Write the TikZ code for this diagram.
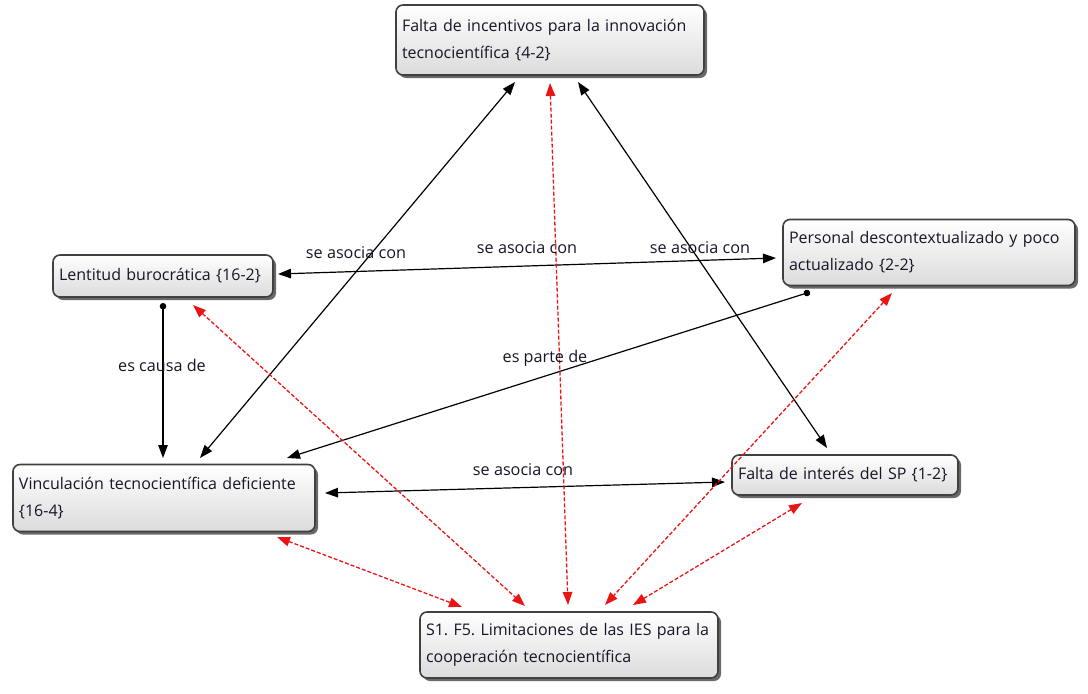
\documentclass[tikz,border=0pt]{standalone}
\usepackage{fontspec}
\setmainfont{Open Sans}
\usetikzlibrary{arrows.meta,shadows,calc}
\definecolor{txt}{RGB}{22,22,40}
\definecolor{redline}{RGB}{235,20,20}
\frenchspacing
\begin{document}
\begin{tikzpicture}[x=1pt,y=-1pt,
  mytip/.tip={Triangle[length=13pt,width=9.5pt]},
  mydot/.tip={Circle[length=6.5pt]},
  box/.style={draw=black!75, line width=1.6pt, rounded corners=7pt,
    top color=white, bottom color=black!14,
    drop shadow={shadow xshift=3pt,shadow yshift=-3pt,fill=black!65,opacity=.9},
    align=left, inner xsep=6pt, inner ysep=0pt, text=txt,
    font=\fontsize{16}{27}\selectfont},
  lbl/.style={text=txt, inner sep=0pt, font=\fontsize{16.2}{18}\selectfont},
  blk/.style={draw=black, line width=1.2pt},
  rdl/.style={draw=redline, line width=1.3pt, dash pattern=on 4pt off 2pt}]
\useasboundingbox (0,0) rectangle (1088,694);

\node[box, text width=296pt, minimum width=308pt, minimum height=70pt] (top) at (550,40)
  {\mbox{Falta de incentivos para la innovación}\\\mbox{tecnocientífica \{4-2\}}};
\node[box, text width=208pt, minimum width=220pt, minimum height=42pt] (lent) at (163,276)
  {\mbox{Lentitud burocrática \{16-2\}}};
\node[box, text width=280pt, minimum width=292pt, minimum height=66pt] (pers) at (929,252.5)
  {\mbox{Personal descontextualizado y poco}\\\mbox{actualizado \{2-2\}}};
\node[box, text width=290pt, minimum width=302pt, minimum height=67pt] (vinc) at (164,498)
  {\mbox{Vinculación tecnocientífica deficiente}\\\mbox{\{16-4\}}};
\node[box, text width=214pt, minimum width=226pt, minimum height=40pt] (fint) at (845,475)
  {\mbox{Falta de interés del SP \{1-2\}}};
\node[box, text width=286pt, minimum width=298pt, minimum height=66pt] (s1) at (569,645)
  {\mbox{S1. F5. Limitaciones de las IES para la}\\\mbox{cooperación tecnocientífica}};

% black connectors
\draw[blk,mytip-mytip] ($(top.center)+(-35,42)$) -- ($(vinc.center)+(36,-40)$);
\draw[blk,mytip-mytip] ($(top.center)+(28,42)$) -- ($(fint.center)+(-18,-27)$);
\draw[blk,mytip-mytip] ($(lent.center)+(115,-2)$) -- ($(pers.center)+(-153,5.5)$);
\draw[blk,mydot-mytip] ($(lent.center)+(0,27)$) -- ($(vinc.center)+(-1,-40)$);
\draw[blk,mydot-mytip] ($(pers.center)+(-119,39.5)$) -- ($(vinc.center)+(123,-40)$);
\draw[blk,mytip-mytip] ($(vinc.center)+(161,-5)$) -- ($(fint.center)+(-120,7)$);

% red dashed connectors
\draw[rdl,mytip-mytip] ($(top.center)+(0,43)$) -- ($(s1.center)+(-1,-40)$);
\draw[rdl,mytip-mytip] ($(lent.center)+(30,29)$) -- ($(s1.center)+(-44,-39)$);
\draw[rdl,mytip-mytip] ($(vinc.center)+(113,39)$) -- ($(s1.center)+(-107,-38)$);
\draw[rdl,mytip-mytip] ($(pers.center)+(-37,40.5)$) -- ($(s1.center)+(36,-40)$);
\draw[rdl,mytip-mytip] ($(fint.center)+(-43,28)$) -- ($(s1.center)+(64,-40)$);

% labels
\node[lbl] (l1) at (356,253) {se asocia con};
\node[lbl] (l2) at (527,248) {se asocia con};
\node[lbl] (l3) at (700,248) {se asocia con};
\node[lbl] (l4) at (162,365) {es causa de};
\node[lbl] (l5) at (545,358) {es parte de};
\node[lbl] (l6) at (523,470) {se asocia con};
\end{tikzpicture}
\end{document}
